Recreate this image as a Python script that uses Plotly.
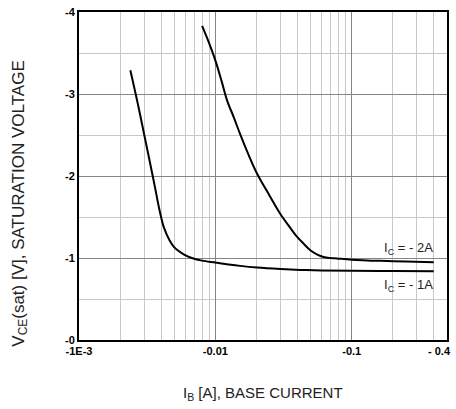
import math
import plotly.graph_objects as go

# Data
ib_1a = [0.00238, 0.00270, 0.00302, 0.00330, 0.00360, 0.00390, 0.00420, 0.00460,
         0.00500, 0.00560, 0.00621, 0.00700, 0.00800, 0.01, 0.0125, 0.0152, 0.0202,
         0.030, 0.042, 0.060, 0.1, 0.2, 0.4]
vce_1a = [-3.29, -2.88, -2.49, -2.18, -1.87, -1.58, -1.37, -1.22,
          -1.13, -1.065, -1.022, -0.990, -0.968, -0.945, -0.922, -0.904, -0.884,
          -0.866, -0.855, -0.848, -0.843, -0.840, -0.838]

ib_2a = [0.0080, 0.0090, 0.01, 0.0111, 0.0122, 0.0137, 0.0152, 0.0175, 0.0202,
         0.0250, 0.0299, 0.0350, 0.0398, 0.0450, 0.0497, 0.0560, 0.0621, 0.070,
         0.078, 0.1, 0.162, 0.25, 0.4]
vce_2a = [-3.83, -3.62, -3.41, -3.16, -2.92, -2.71, -2.51, -2.26, -2.03,
          -1.76, -1.54, -1.38, -1.257, -1.165, -1.095, -1.042, -1.013, -1.000,
          -0.994, -0.980, -0.965, -0.956, -0.949]

x_tickvals = [0.001, 0.01, 0.1, 0.5]
x_ticktext = ["-1E-3", "-0.01", "-0.1", ""]
x_end_label = "- 0.4"   # printed at the right end of the x axis
y_tickvals = [0, -1, -2, -3, -4]
y_ticktext = ["-0", "-1", "-2", "-3", "-4"]

x_minor = [m * d for d in (0.001, 0.01, 0.1) for m in range(2, 10) if m * d <= 0.5]
y_minor = [-0.5, -1.5, -2.5, -3.5]

FONT = "Liberation Sans, Arial, sans-serif"

fig = go.Figure()
fig.add_trace(go.Scatter(x=ib_1a, y=vce_1a, mode="lines",
                         line=dict(color="black", width=2, shape="spline", smoothing=1.0),
                         showlegend=False))
fig.add_trace(go.Scatter(x=ib_2a, y=vce_2a, mode="lines",
                         line=dict(color="black", width=2, shape="spline", smoothing=1.0),
                         showlegend=False))

fig.update_xaxes(type="log", range=[math.log10(0.001), math.log10(0.5)],
                 tickvals=x_tickvals, ticktext=x_ticktext,
                 tickfont=dict(family=FONT, size=11, color="black", weight="bold"),
                 ticklabeloverflow="allow",
                 showgrid=True, gridcolor="#858585", gridwidth=1.3,
                 minor=dict(tickvals=x_minor, showgrid=True, gridcolor="#c8c8c8", gridwidth=1.3),
                 showline=True, mirror=True, linecolor="black", linewidth=2,
                 ticks="", zeroline=False, automargin=False)
fig.update_yaxes(range=[0, -4],
                 tickvals=y_tickvals, ticktext=y_ticktext,
                 tickfont=dict(family=FONT, size=11, color="black", weight="bold"),
                 ticklabeloverflow="allow",
                 showgrid=True, gridcolor="#858585", gridwidth=1.3,
                 minor=dict(tickvals=y_minor, showgrid=True, gridcolor="#c8c8c8", gridwidth=1.3),
                 showline=True, mirror=True, linecolor="black", linewidth=2,
                 ticks="", zeroline=False, automargin=False)

annotations = [
    dict(text="V<sub>CE</sub>(sat) [V], SATURATION VOLTAGE", xref="paper", yref="paper",
         x=-0.161, y=0.415, xanchor="center", yanchor="middle", textangle=-90,
         showarrow=False, font=dict(family=FONT, size=17, color="#222")),
    dict(text="I<sub>B</sub> [A], BASE CURRENT", xref="paper", yref="paper",
         x=0.5, y=-0.164, xanchor="center", yanchor="middle", showarrow=False,
         font=dict(family=FONT, size=15, color="#222")),
    dict(text="I<sub>C</sub> = - 2A", xref="x", yref="y",
         x=math.log10(0.41), y=-1.11, xanchor="right", showarrow=False,
         font=dict(family=FONT, size=13, color="#222")),
    dict(text="I<sub>C</sub> = - 1A", xref="x", yref="y",
         x=math.log10(0.41), y=-0.67, xanchor="right", showarrow=False,
         font=dict(family=FONT, size=13, color="#222")),
    dict(text=x_end_label, xref="paper", yref="paper",
         x=1.014, y=-0.034, xanchor="right", yanchor="middle", showarrow=False,
         borderpad=0, font=dict(family=FONT, size=11, color="black", weight="bold")),
]

fig.update_layout(width=456, height=409,
                  margin=dict(l=78.5, r=9.3, t=11.5, b=69, autoexpand=False),
                  paper_bgcolor="white", plot_bgcolor="white",
                  annotations=annotations)

fig.write_html("out.html", config={"displayModeBar": False},
               post_script="document.body.style.margin='0';document.body.style.padding='0';")
